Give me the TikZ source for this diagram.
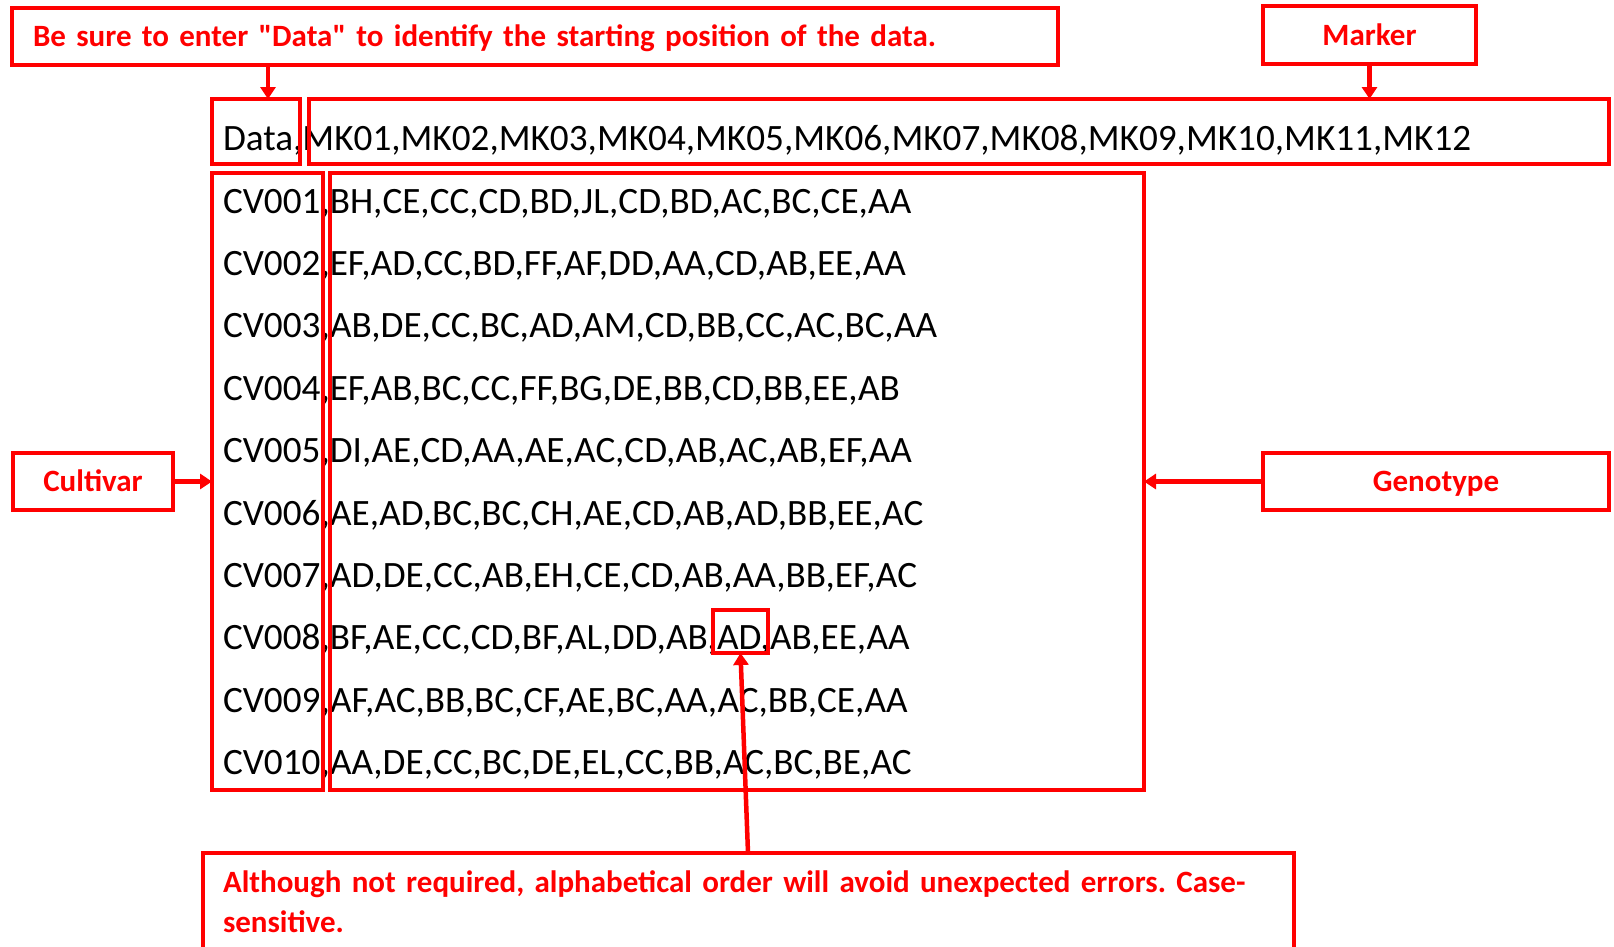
\documentclass[tikz,border=0pt]{standalone}
\usepackage{fontspec}
\setmainfont{Carlito}[Ligatures=TeXOff]
\usepackage{tikz}
\usetikzlibrary{arrows.meta,positioning}
\definecolor{mark}{HTML}{FF0000}
\frenchspacing

\begin{document}
\begin{tikzpicture}[
        x=1pt, y=-1pt,
        every node/.style={
            inner sep=0pt,
            outer sep=0pt
        },
        frame/.style={
            draw=mark,
            line width=4.5pt
        },
        tag/.style={
            frame,
            text=mark,
            align=center,
            font=\fontsize{31}{40}\selectfont\bfseries
        },
        oneline/.style={
            text height=22pt,
            text depth=2pt
        },
        cell/.style={
            anchor=base west,
            text=black,
            font=\fontsize{37.2}{44}\selectfont
        },
        arrow/.style={
            -{Triangle[length=12pt,width=15pt]},
            line width=4.5pt,
            color=mark
        }
    ]
        \useasboundingbox (0,0) rectangle (1614,946);
        \clip (0,0) rectangle (1614,946);

        % The data file
        \node[cell] (header) at (223,150) {Data,MK01,MK02,MK03,MK04,MK05,MK06,MK07,MK08,MK09,MK10,MK11,MK12};
        \foreach \gt [count=\i] in {
            {CV001,BH,CE,CC,CD,BD,JL,CD,BD,AC,BC,CE,AA},
            {CV002,EF,AD,CC,BD,FF,AF,DD,AA,CD,AB,EE,AA},
            {CV003,AB,DE,CC,BC,AD,AM,CD,BB,CC,AC,BC,AA},
            {CV004,EF,AB,BC,CC,FF,BG,DE,BB,CD,BB,EE,AB},
            {CV005,DI,AE,CD,AA,AE,AC,CD,AB,AC,AB,EF,AA},
            {CV006,AE,AD,BC,BC,CH,AE,CD,AB,AD,BB,EE,AC},
            {CV007,AD,DE,CC,AB,EH,CE,CD,AB,AA,BB,EF,AC},
            {CV008,BF,AE,CC,CD,BF,AL,DD,AB,AD,AB,EE,AA},
            {CV009,AF,AC,BB,BC,CF,AE,BC,AA,AC,BB,CE,AA},
            {CV010,AA,DE,CC,BC,DE,EL,CC,BB,AC,BC,BE,AC}}
            \node[cell] (row\i) at (223,{213+62.4*(\i-1)}) {\gt};

        % Frames round the parts of the file
        \node[frame, anchor=north west, minimum width=88pt, minimum height=65pt] (datahead) at (212,99) {};
        \node[frame, anchor=north west, minimum width=1300pt, minimum height=65pt] (markers) at (309,99) {};
        \node[frame, anchor=north west, minimum width=111pt, minimum height=617pt] (cvcol) at (212,173) {};
        \node[frame, anchor=north west, minimum width=814pt, minimum height=617pt] (geno) at (330,173) {};
        \node[frame, anchor=north west, minimum width=55pt, minimum height=43pt] (adbox) at (713,610) {};

        % Callouts
        \node[tag, oneline, anchor=north west, minimum width=1046pt, minimum height=57pt,
            text width=1004pt, inner xsep=21pt, align=left] (hint) at (12,8)
            {Be sure to enter "Data" to identify the starting position of the data.};
        \node[tag, oneline, minimum width=213pt, minimum height=58pt] (marker) at (1369.5,35) {Marker};
        \node[tag, oneline, minimum width=160pt, minimum height=57pt] (cultivar) at (93,481.5) {Cultivar};
        \node[tag, oneline, minimum width=346pt, minimum height=57pt] (genotype) at (1436,481.5) {Genotype};
        \node[tag, anchor=north west, text width=1051pt, inner xsep=20pt, inner ysep=18pt,
            align=left] (errnote) at (203,853)
            {Although not required, alphabetical order will avoid unexpected errors. Case-\\sensitive.};

        \coordinate (hintX) at (268,0);
        \coordinate (errX) at (748,0);

        \draw[arrow] (hint.south -| hintX) -- (datahead.north -| hintX);
        \draw[arrow] (marker.south) -- (marker.south |- markers.north);
        \draw[arrow] (cultivar.east) -- (cultivar.east -| cvcol.west);
        \draw[arrow] (genotype.west) -- (genotype.west -| geno.east);
        \draw[arrow] (errnote.north -| errX) -- (adbox.south);
    \end{tikzpicture}
\end{document}
